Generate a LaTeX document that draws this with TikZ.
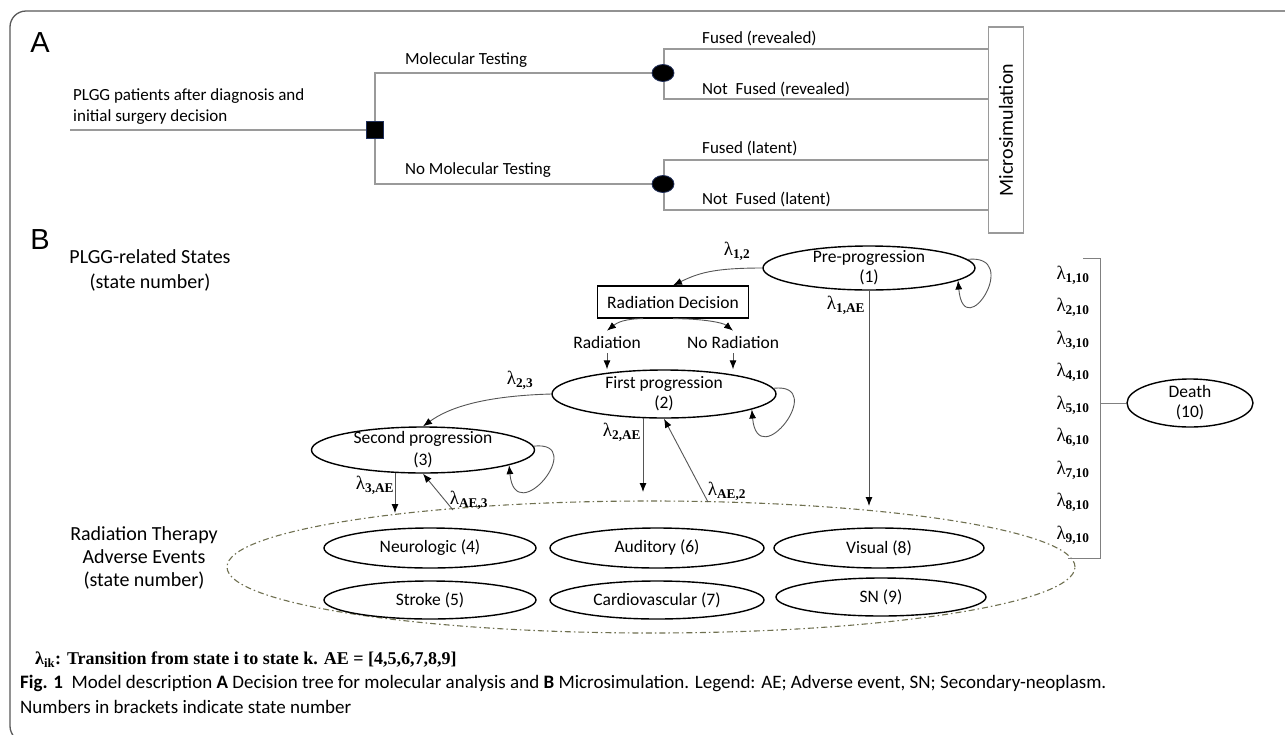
\documentclass[tikz,border=0pt]{standalone}
\usepackage{fontspec}
\setmainfont{Carlito}
\newfontfamily\lamfont{Liberation Serif}
\newfontfamily\headfont{Liberation Sans}
\usetikzlibrary{arrows.meta,shapes.geometric}
\pgfdeclarelayer{bg}
\pgfsetlayers{bg,main}
\newcommand{\lmb}[1]{{\lamfont λ\textsubscript{\bfseries #1}}}
\definecolor{treegray}{HTML}{9A9A9A}
\definecolor{conngray}{HTML}{555555}
\definecolor{aeline}{HTML}{6F7050}
\definecolor{navyb}{HTML}{1F2E5A}
\begin{document}
\begin{tikzpicture}[x=1pt,y=-1pt,
  every node/.style={inner sep=0pt},
  tt/.style={font=\fontsize{17}{21}\selectfont},
  txt/.style={font=\fontsize{17.5}{20}\selectfont},
  big/.style={font=\fontsize{20}{25}\selectfont},
  head/.style={font=\headfont\fontsize{29}{30}\selectfont},
  lam/.style={font=\fontsize{19}{20}\selectfont},
  tree/.style={draw=treegray, line width=1.3pt},
  chance/.style={ellipse, fill=black, draw=navyb, line width=0.8pt, minimum width=22pt, minimum height=17pt},
  dec/.style={rectangle, fill=black, draw=navyb, line width=0.8pt, minimum size=17pt},
  st/.style={ellipse, draw=black, line width=1.4pt},
  conn/.style={draw=conngray, line width=0.9pt},
  arr/.style={conn, -{Latex[length=9pt,width=7pt,color=black]}},
]
\useasboundingbox (0,0) rectangle (1285,734);
\clip (0,0) rectangle (1285,734);
\begin{pgfonlayer}{bg}
\fill[white] (0,0) rectangle (1285,734);
\end{pgfonlayer}

% frame
\draw[gray!70!black, line width=1.3pt, rounded corners=16pt] (1295,11) -- (10,11) -- (10,742) -- (40,742);

% ---------- Part A ----------
\node[head] (A) at (40,43) {A};
\node[tt, align=left, anchor=west] (root) at (73,107) {PLGG patients after diagnosis and\\initial surgery decision};

\node[dec] (sq) at (375,130) {};
\node[chance] (c1) at (663,73) {};
\node[chance] (c2) at (663,184) {};
\node[draw=treegray, line width=1.3pt, minimum width=35pt, minimum height=206pt] (micro) at (1006,130) {};
\node[big, rotate=90] (microt) at (micro) {Microsimulation};

\coordinate (rootl) at (70,130);
\coordinate (b1) at (664,49);
\coordinate (b2) at (664,99);
\coordinate (b3) at (664,160);
\coordinate (b4) at (664,210);
\begin{pgfonlayer}{bg}
\draw[tree] (rootl) -- (sq.west);
\draw[tree] (c1.west) -| (sq.center) |- (c2.west);
\draw[tree] (micro.west |- b1) -- (b1) -- (b2) -- (micro.west |- b2);
\draw[tree] (micro.west |- b3) -- (b3) -- (b4) -- (micro.west |- b4);
\end{pgfonlayer}

\node[tt, anchor=west] (mt) at (405,60) {Molecular Testing};
\node[tt, anchor=west] (nmt) at (405,170) {No Molecular Testing};
\node[tt, anchor=west] (fr) at (702,38) {Fused (revealed)};
\node[tt, anchor=west] (nfr) at (702,89) {Not\ \ Fused (revealed)};
\node[tt, anchor=west] (fl) at (702,148) {Fused (latent)};
\node[tt, anchor=west] (nfl) at (702,199) {Not\ \ Fused (latent)};

% ---------- Part B ----------
\node[head] (B) at (40,240) {B};
\node[big, align=center] (plgg) at (150,270) {PLGG-related States\\(state number)};
\node[align=center, font=\fontsize{20}{23}\selectfont] (rte) at (144,558) {Radiation Therapy\\Adverse Events\\(state number)};

% AE container
\node[ellipse, draw=aeline, line width=1.1pt, dash pattern=on 6pt off 3pt on 1.5pt off 3pt, minimum width=848pt, minimum height=132pt] (ae) at (651,567) {};

% states
\node[st, minimum width=212pt, minimum height=44pt] (pre) at (869,268) {};
\node[txt, align=center] (pret) at (pre) {Pre-progression\\(1)};
\node[draw=black, line width=1.3pt, minimum width=151pt, minimum height=32pt, txt] (rd) at (673,302) {Radiation Decision};
\node[txt, inner ysep=5pt] (rad) at (607,342) {Radiation};
\node[txt, inner ysep=5pt] (norad) at (733,342) {No Radiation};
\node[st, minimum width=224pt, minimum height=48pt] (first) at (664,394) {};
\node[txt, align=center] (firstt) at (first) {First progression\\(2)};
\node[st, minimum width=223pt, minimum height=46pt] (second) at (423,450) {};
\node[txt, align=center, font=\fontsize{17.5}{22}\selectfont] (secondt) at (second) {Second progression\\(3)};

\node[st, txt, minimum width=212pt, minimum height=40pt] (neu) at (430,548) {Neurologic (4)};
\node[st, txt, minimum width=214pt, minimum height=40pt] (aud) at (657,548) {Auditory (6)};
\node[st, txt, minimum width=210pt, minimum height=40pt] (vis) at (879,548) {Visual (8)};
\node[st, txt, minimum width=212pt, minimum height=38pt] (str) at (430,600) {Stroke (5)};
\node[st, txt, minimum width=214pt, minimum height=38pt] (car) at (657,600) {Cardiovascular (7)};
\node[st, txt, minimum width=210pt, minimum height=38pt] (sn) at (881,597) {SN (9)};

\node[st, minimum width=126pt, minimum height=48pt] (death) at (1190,403) {};
\node[txt, align=center] (deatht) at (death) {Death\\(10)};

% transitions
\draw[arr] (pre.west) .. controls +(-50,0) and +(25,-12) .. (rd.north);
\draw[arr] ([xshift=-30pt]rd.south) .. controls +(-18,0) and +(10,-8) .. (rad.north);
\draw[arr] (rd.south) .. controls +(30,0) and +(-10,-8) .. (norad.north);
\draw[arr] (rad.south) -- (rad.south |- first.north);
\draw[arr] (norad.south) -- (norad.south |- first.north);
\draw[arr] (first.west) .. controls +(-70,2) and +(25,-18) .. (second.north);

\draw[arr] (pre.5) .. controls +(55,-6) and +(6,66) .. (pre.-8);
\draw[arr] (first.3) .. controls +(55,-6) and +(6,66) .. (first.-10);
\draw[arr] (second.2) .. controls +(55,-6) and +(6,66) .. (second.-10);

\coordinate (e1) at (869,506);
\coordinate (e2) at (643,492);
\coordinate (s2) at (708,502);
\coordinate (e3) at (395,513);
\coordinate (s3) at (453,510);
\draw[arr] (pre.south) -- (e1);
\draw[arr] (e2 |- first.230) -- (e2);
\draw[arr] (s2) -- (first.south);
\draw[arr] (e3 |- second.220) -- (e3);
\draw[arr] (s3) -- (second.south);

% labels
\node[lam] (l12) at (737,251) {\lmb{1,2}};
\node[lam] (l23) at (520,380) {\lmb{2,3}};
\node[lam] (l1ae) at (846,305) {\lmb{1,AE}};
\node[lam] (l2ae) at (622,432) {\lmb{2,AE}};
\node[lam] (lae2) at (727,491) {\lmb{AE,2}};
\node[lam] (l3ae) at (375,485) {\lmb{3,AE}};
\node[lam] (lae3) at (469,500) {\lmb{AE,3}};

% death bracket
\coordinate (bt0) at (1083,258);
\coordinate (bt) at (1100,258);
\coordinate (bb) at (1100,558);
\coordinate (bb0) at (1068,558);
\draw[conn, draw=gray] (bt0) -- (bt) -- (bb) -- (bb0);
\draw[conn, draw=gray] (death.west) -- (death.west -| bt);
\foreach \i [evaluate=\i as \yy using {275+32.5*(\i-1)}] in {1,...,9} {
  \node[lam] (ld\i) at (1073,\yy) {\lmb{\i,10}};
}

% legend and caption
\node[font=\lamfont\bfseries\fontsize{18}{22}\selectfont, anchor=west] (leg) at (35,660) {λ\textsubscript{ik}: Transition from state i to state k. AE = [4,5,6,7,8,9]};
\node[font=\fontsize{19}{25}\selectfont, anchor=north west, align=left] (cap) at (20,675) {\textbf{Fig. 1}\ \ Model description \textbf{A} Decision tree for molecular analysis and \textbf{B} Microsimulation. Legend: AE; Adverse event, SN; Secondary-neoplasm.\\Numbers in brackets indicate state number};
\end{tikzpicture}
\end{document}
